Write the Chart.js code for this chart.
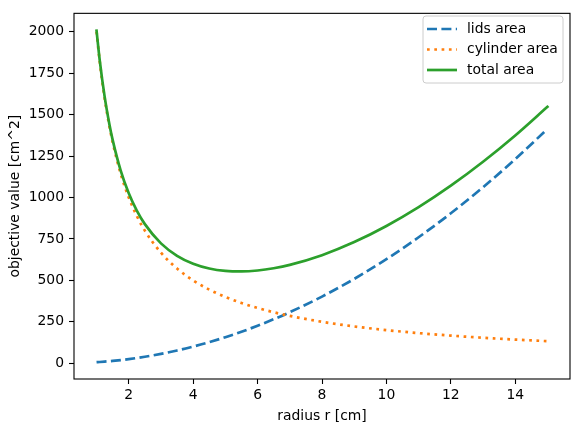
<!DOCTYPE html>
<html>
<head>
<meta charset="utf-8">
<script src="https://cdn.jsdelivr.net/npm/chart.js@4.4.0/dist/chart.umd.min.js"></script>
<style>
  html, body { margin: 0; padding: 0; background: #fff; }
  #wrap { width: 580px; height: 432px; }
</style>
</head>
<body>
<div id="wrap"><canvas id="areaCanvas" width="580" height="432"></canvas></div>
<script>
'use strict';

// values
const radius = [1, 1.1, 1.25, 1.4, 1.5, 1.75, 2, 2.25, 2.5, 3, 3.5, 4, 4.5, 5, 5.5, 6, 6.5, 7, 8, 9, 10, 11, 12, 13, 14, 15];
const lidsArea = [6.3, 7.6, 9.8, 12.3, 14.1, 19.2, 25.1, 31.8, 39.3, 56.5, 77.0, 100.5, 127.2, 157.1, 190.1, 226.2, 265.5, 307.9, 402.1, 508.9, 628.3, 760.3, 904.8, 1061.9, 1231.5, 1413.7];
const cylinderArea = [2000, 1818.2, 1600, 1428.6, 1333.3, 1142.9, 1000, 888.9, 800, 666.7, 571.4, 500, 444.4, 400, 363.6, 333.3, 307.7, 285.7, 250, 222.2, 200, 181.8, 166.7, 153.8, 142.9, 133.3];
const totalArea = [2006.3, 1825.8, 1609.8, 1440.9, 1347.5, 1162.1, 1025.1, 920.7, 839.3, 723.2, 648.4, 600.5, 571.7, 557.1, 553.7, 559.5, 573.2, 593.6, 652.1, 731.2, 828.3, 942.1, 1071.4, 1215.7, 1374.4, 1547.1];

const seriesNames = ['lids area', 'cylinder area', 'total area'];
const xTicks = [2, 4, 6, 8, 10, 12, 14];
const yTicks = [0, 250, 500, 750, 1000, 1250, 1500, 1750, 2000];

const FONT = 'DejaVu Sans';
const FSIZE = 13.9;

function toPoints(values) {
    const pts = [];
    for (let i = 0; i < radius.length; i++) {
        pts.push({ x: radius[i], y: values[i] });
    }
    return pts;
}

// box around the plot like matplotlib spines
const framePlugin = {
    id: 'frame',
    afterDatasetsDraw(chart) {
        const a = chart.chartArea;
        const ctx = chart.ctx;
        ctx.save();
        ctx.strokeStyle = '#000';
        ctx.lineWidth = 1.1;
        ctx.setLineDash([]);
        ctx.strokeRect(a.left, a.top, a.right - a.left, a.bottom - a.top);
        ctx.restore();
    }
};

// legend box drawn by hand (line samples with dashes)
const legendPlugin = {
    id: 'mplLegend',
    afterDraw(chart) {
        const ctx = chart.ctx;
        const x0 = 423, y0 = 16, w = 140, h = 67;
        ctx.save();
        ctx.beginPath();
        ctx.roundRect(x0, y0, w, h, 3);
        ctx.fillStyle = 'rgba(255,255,255,0.8)';
        ctx.fill();
        ctx.strokeStyle = '#cccccc';
        ctx.lineWidth = 1;
        ctx.stroke();
        const sets = chart.data.datasets;
        for (let i = 0; i < sets.length; i++) {
            const yy = 29 + i * 20.5;
            ctx.beginPath();
            ctx.strokeStyle = sets[i].borderColor;
            ctx.lineWidth = sets[i].borderWidth;
            ctx.lineCap = 'butt';
            ctx.setLineDash(sets[i].borderDash || []);
            ctx.moveTo(427, yy);
            ctx.lineTo(457, yy);
            ctx.stroke();
            ctx.setLineDash([]);
            ctx.fillStyle = '#000';
            ctx.font = FSIZE + 'px "' + FONT + '"';
            ctx.textBaseline = 'middle';
            ctx.textAlign = 'left';
            ctx.fillText(sets[i].label, 467, yy);
        }
        ctx.restore();
    }
};

const canvas = document.getElementById('areaCanvas');
const context = canvas.getContext('2d');

const chart = new Chart(context, {
    type: 'line',
    data: {
        datasets: [
            {
                label: seriesNames[0],
                data: toPoints(lidsArea),
                borderColor: '#1f77b4',
                borderWidth: 2.7,
                borderDash: [10, 4.4],
                borderCapStyle: 'butt',
                order: 2
            },
            {
                label: seriesNames[1],
                data: toPoints(cylinderArea),
                borderColor: '#ff7f0e',
                borderWidth: 2.7,
                borderDash: [2.7, 4.6],
                borderCapStyle: 'butt',
                order: 1
            },
            {
                label: seriesNames[2],
                data: toPoints(totalArea),
                borderColor: '#2ca02c',
                borderWidth: 2.7,
                borderCapStyle: 'square',
                order: 0
            }
        ]
    },
    options: {
        responsive: false,
        animation: false,
        devicePixelRatio: 1,
        elements: {
            point: { radius: 0 },
            line: { cubicInterpolationMode: 'monotone', fill: false }
        },
        layout: { padding: { top: 9, right: 10, left: 0, bottom: 0 } },
        plugins: {
            legend: { display: false },
            tooltip: { enabled: false }
        },
        scales: {
            x: {
                type: 'linear',
                min: 0.3,
                max: 15.7,
                afterFit(scale) { scale.height = 53; },
                afterBuildTicks(scale) { scale.ticks = xTicks.map(v => ({ value: v })); },
                grid: { display: true, drawOnChartArea: false, drawTicks: true, tickLength: 5, color: '#000', tickWidth: 1.1 },
                border: { display: false },
                ticks: { color: '#000', padding: 3, maxRotation: 0, font: { family: FONT, size: FSIZE }, callback: v => String(v) },
                title: { display: true, text: 'radius r [cm]', color: '#000', font: { family: FONT, size: FSIZE }, padding: { top: 4, bottom: 7 } }
            },
            y: {
                type: 'linear',
                min: -95,
                max: 2111,
                afterFit(scale) { scale.width = 74; },
                afterBuildTicks(scale) { scale.ticks = yTicks.map(v => ({ value: v })); },
                grid: { display: true, drawOnChartArea: false, drawTicks: true, tickLength: 5, color: '#000', tickWidth: 1.1 },
                border: { display: false },
                ticks: { color: '#000', padding: 5, font: { family: FONT, size: FSIZE }, callback: v => String(v) },
                title: { display: true, text: 'objective value [cm^2]', color: '#000', font: { family: FONT, size: FSIZE }, padding: { top: 7, bottom: 4 } }
            }
        }
    },
    plugins: [framePlugin, legendPlugin]
});
</script>
</body>
</html>
